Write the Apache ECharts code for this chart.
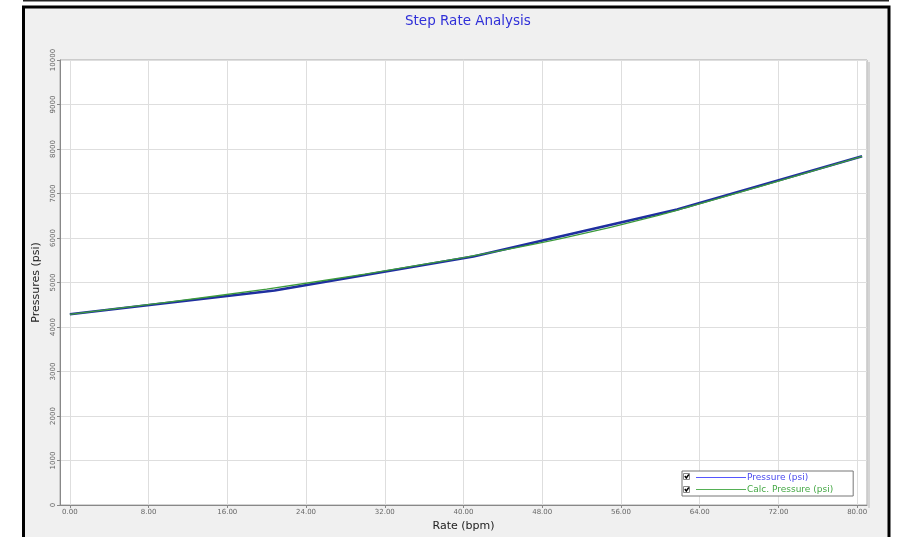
<!DOCTYPE html>
<html>
<head>
<meta charset="utf-8">
<script src="https://cdn.jsdelivr.net/npm/echarts@6/dist/echarts.min.js"></script>
<style>
  html, body { margin: 0; padding: 0; background: #fff; }
  #chart { width: 897px; height: 537px; }
</style>
</head>
<body>
<div id="chart"></div>
<script>
// measured pressure points (rate bpm, psi)
const pressureRates = [0, 20.8, 41, 61.7, 80.5];
const pressureValues = [4285, 4820, 5585, 6640, 7835];

// calculated pressure curve
const calcRates = [0, 10, 20, 30, 40, 50, 60, 70, 80.5];
const calcValues = [4285, 4560, 4850, 5190, 5560, 5990, 6520, 7150, 7835];

const xTicks = [0, 8, 16, 24, 32, 40, 48, 56, 64, 72, 80];
const yTicks = [0, 1000, 2000, 3000, 4000, 5000, 6000, 7000, 8000, 9000, 10000];

const chart = echarts.init(document.getElementById('chart'), null, { renderer: 'canvas' });

const pair = (xs, ys) => xs.map((x, i) => [x, ys[i]]);

// little checked box drawn in front of each legend row
const checkBox = (y) => [
    { type: 'rect', z: 10, shape: { x: 683.5, y: y, width: 6, height: 6 }, style: { fill: '#fff', stroke: '#888', lineWidth: 1 } },
    { type: 'polyline', z: 11, shape: { points: [[684.8, y + 2.5], [686.3, y + 4.5], [688.8, y + 1]] },
      style: { fill: null, stroke: '#000', lineWidth: 1.4 } }
];

const option = {
    backgroundColor: '#fff',
    animation: false,
    textStyle: { fontFamily: 'DejaVu Sans' },
    title: {
        text: 'Step Rate Analysis',
        left: 400,
        top: 9,
        textStyle: { color: '#3030d8', fontSize: 13.5, fontWeight: 'normal', fontFamily: 'DejaVu Sans' }
    },
    graphic: [
        { type: 'rect', z: -10, shape: { x: 23, y: 0, width: 866, height: 1.5 }, style: { fill: '#222' } },
        { type: 'rect', z: -10, shape: { x: 23.5, y: 7, width: 865.5, height: 545 },
          style: { fill: '#f0f0f0', stroke: '#000', lineWidth: 3 } },
        { type: 'rect', z: 1, shape: { x: 868, y: 62, width: 2, height: 446 }, style: { fill: '#d4d4d4' } },
        ...checkBox(473.5),
        ...checkBox(486.5)
    ],
    grid: {
        left: 60, top: 60, right: 30, bottom: 30,
        show: true,
        backgroundColor: '#fff',
        borderColor: '#a8a8a8',
        borderWidth: 1
    },
    legend: {
        orient: 'vertical',
        left: 682,
        top: 471,
        padding: [2, 20, 2, 14],
        itemGap: 3,
        itemWidth: 50,
        itemHeight: 1,
        icon: 'rect',
        backgroundColor: '#fff',
        borderColor: '#777',
        borderWidth: 1,
        borderRadius: 0,
        selectedMode: false,
        textStyle: { fontSize: 9, fontFamily: 'DejaVu Sans', padding: [0, 0, 0, -4] },
        data: [
            { name: 'Pressure (psi)', textStyle: { color: '#4a4aee' } },
            { name: 'Calc. Pressure (psi)', textStyle: { color: '#45a845' } }
        ]
    },
    xAxis: {
        type: 'value',
        min: -1,
        max: 81,
        name: 'Rate (bpm)',
        nameLocation: 'middle',
        nameGap: 16,
        nameTextStyle: { color: '#222', fontSize: 11, fontFamily: 'DejaVu Sans' },
        axisLine: { show: true, onZero: false, lineStyle: { color: '#888', width: 1 } },
        axisTick: { show: true, customValues: xTicks, length: 3, lineStyle: { color: '#888' } },
        axisLabel: {
            customValues: xTicks,
            color: '#666',
            fontSize: 7,
            margin: 4,
            formatter: v => v.toFixed(2)
        },
        splitLine: { show: true, lineStyle: { color: '#dedede', width: 1 } }
    },
    yAxis: {
        type: 'value',
        min: 0,
        max: 10000,
        interval: 1000,
        name: 'Pressures (psi)',
        nameLocation: 'middle',
        nameGap: 14,
        nameTextStyle: { color: '#222', fontSize: 11, fontFamily: 'DejaVu Sans' },
        axisLine: { show: true, onZero: false, lineStyle: { color: '#888', width: 1 } },
        axisTick: { show: true, customValues: yTicks, length: 3, lineStyle: { color: '#888' } },
        axisLabel: {
            customValues: yTicks,
            color: '#666',
            fontSize: 7,
            rotate: 90,
            margin: 3,
            formatter: v => String(v)
        },
        splitLine: { show: true, lineStyle: { color: '#dedede', width: 1 } }
    },
    series: [
        {
            name: 'Pressure (psi)',
            type: 'line',
            data: pair(pressureRates, pressureValues),
            showSymbol: false,
            color: '#5555ff',
            lineStyle: { color: '#1f2f9f', width: 2.6 },
            z: 2
        },
        {
            name: 'Calc. Pressure (psi)',
            type: 'line',
            data: pair(calcRates, calcValues),
            showSymbol: false,
            smooth: 0.2,
            color: '#55b055',
            lineStyle: { color: '#3c9a3c', width: 1.3 },
            z: 3
        }
    ]
};

chart.setOption(option);
</script>
</body>
</html>
